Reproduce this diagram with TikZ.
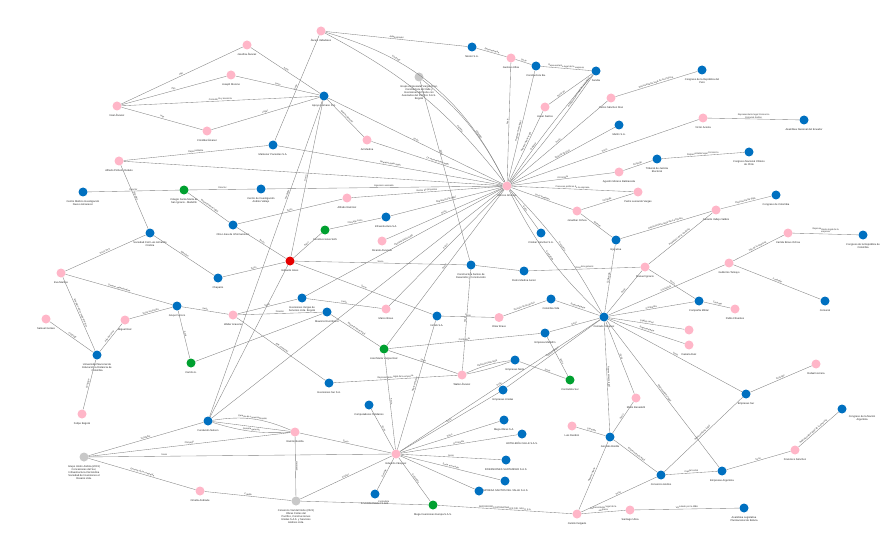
\documentclass[tikz,border=0pt]{standalone}
\usepackage{fontspec}
\setmainfont{Liberation Sans}
\usepackage{tikz}

\definecolor{pinkc}{RGB}{255,182,200}
\definecolor{bluec}{RGB}{0,112,192}
\definecolor{greenc}{RGB}{0,160,48}
\definecolor{greyc}{RGB}{200,200,200}
\definecolor{redc}{RGB}{230,0,0}

\begin{document}
\begin{tikzpicture}[x=1pt, y=-1pt,
    dot/.style={circle, minimum size=9pt, inner sep=0pt, label distance=1.2pt},
    pnode/.style={dot, fill=pinkc},
    bnode/.style={dot, fill=bluec},
    gnode/.style={dot, fill=greenc},
    ynode/.style={dot, fill=greyc},
    rnode/.style={dot, fill=redc},
    nlbl/.style={font=\fontsize{2.6}{3.1}\selectfont, align=center, text=black!85},
    elbl/.style={font=\fontsize{2.3}{2.7}\selectfont, sloped, above, inner sep=0.5pt, text=black!80},
    rel/.style={draw=black!50, line width=0.35pt}]

    \fill[white] (0,0) rectangle (890,553);
    \useasboundingbox (0,0) rectangle (890,553);

    % Hubs
    \node[pnode, label={[nlbl]below:Marcos Jiménez}] (hubA) at (507,186) {};
    \node[bnode, label={[nlbl]below:Conrado Vásquez}] (hubB) at (604,317) {};
    \node[pnode, label={[nlbl]below:Eduardo Vásquez}] (hubC) at (396,454) {};
    \node[rnode, label={[nlbl]below:Eduardo Alves}] (alves) at (290,261) {};

    % Upper left group
    \node[pnode, label={[nlbl]below:Noel Álvarez}] (nAlv) at (117,106) {};
    \node[pnode, label={[nlbl]below:Cristóbal Álvarez}] (cAlv) at (207,131) {};
    \node[pnode, label={[nlbl]below:Alfredo Pinheiro Rebelo}] (aPin) at (119,161) {};
    \node[pnode, label={[nlbl]below:Josefina Álvarez}] (jAlv) at (247,45) {};
    \node[pnode, label={[nlbl]below:Joseph Moreno}] (jMor) at (231,75) {};
    \node[pnode, label={[nlbl]below:Álvaro Valladares}] (aVal) at (321,31) {};
    \node[pnode, label={[nlbl]below:Ari Medina}] (aMed) at (367,140) {};
    \node[bnode, label={[nlbl]below:Apoyo Humano S.A.}] (apoyo) at (324,96) {};
    \node[bnode, label={[nlbl]below:Mantener Pacientes S.A.}] (mant) at (273,145) {};
    \node[bnode, label={[nlbl]below:Centro de Investigación\\Andrés Vallejo}] (cInv) at (261,189) {};
    \node[bnode, label={[nlbl]below:Centro Médico Investigación\\Nuevo Amanecer}] (cMed) at (83,192) {};
    \node[gnode, label={[nlbl]below:Colegio Santa María de\\San Ignacio - Medellín}] (colegio) at (184,190) {};
    \node[bnode, label={[nlbl]below:Otra Línea de Informaciones}] (otra) at (233,225) {};
    \node[ynode, label={[nlbl]below:Grupo empresarial Vargas Díaz,\\Constructora del Valle y\\Inversiones del Norte con\\Asociados del Pacífico S.A.S.\\Bogotá}] (grisA) at (419,77) {};

    % Upper right group
    \node[bnode, label={[nlbl]below:Néstor S.A.}] (nest) at (472,47) {};
    \node[pnode, label={[nlbl]below:Gustavo Ulloa}] (gus) at (511,58) {};
    \node[bnode, label={[nlbl]below:Constructora Ba.}] (cons) at (536,66) {};
    \node[bnode, label={[nlbl]below:Sandia}] (sand) at (596,71) {};
    \node[pnode, label={[nlbl]below:Javier Santos}] (jSan) at (545,107) {};
    \node[pnode, label={[nlbl]below:Carlos Sánchez Díaz}] (cSan) at (611,98) {};
    \node[bnode, label={[nlbl]below:Martín S.A.}] (mart) at (619,125) {};
    \node[bnode, label={[nlbl]below:Tribunal de Justicia\\Electoral}] (trib) at (657,159) {};
    \node[pnode, label={[nlbl]below:Agustín Moreno Balmaceda}] (aMor) at (619,172) {};
    \node[bnode, label={[nlbl]below:Congreso de la República del\\Perú}] (cPer) at (702,70) {};
    \node[pnode, label={[nlbl]below:Víctor Acosta}] (vAco) at (703,118) {};
    \node[bnode, label={[nlbl]below:Asamblea Nacional del Ecuador}] (aEcu) at (804,120) {};
    \node[bnode, label={[nlbl]below:Congreso Nacional Chileno\\de Chile}] (cChi) at (749,152) {};
    \node[pnode, label={[nlbl]below:Pedro Leonardo Vargas}] (pVar) at (638,192) {};
    \node[pnode, label={[nlbl]below:Jonathan Ochoa}] (jOch) at (577,211) {};
    \node[bnode, label={[nlbl]below:Cristian Sánchez S.A.}] (cris) at (541,233) {};
    \node[bnode, label={[nlbl]below:Ejecutiva}] (ejec) at (616,240) {};
    \node[pnode, label={[nlbl]below:Gerardo Vallejo Valdés}] (gVal) at (716,210) {};
    \node[bnode, label={[nlbl]below:Congreso de Colombia}] (cCol) at (776,195) {};
    \node[pnode, label={[nlbl]below:Camila Bravo Ochoa}] (cBra) at (788,233) {};
    \node[bnode, label={[nlbl]below:Congreso de la República de\\Colombia}] (cRep) at (863,235) {};
    \node[pnode, label={[nlbl]below:Guillermo Tamayo}] (gTam) at (729,263) {};
    \node[pnode, label={[nlbl]below:Manuel Ignacio}] (mIgn) at (645,267) {};
    \node[bnode, label={[nlbl]below:Comunal}] (comu) at (825,301) {};
    \node[bnode, label={[nlbl]below:Compañía Militar}] (cMil) at (699,301) {};
    \node[pnode, label={[nlbl]below:Pablo Cifuentes}] (pCif) at (735,309) {};
    \node[pnode] (pkA) at (689,330) {};
    \node[pnode, label={[nlbl]below:Daniela Ruiz}] (pkB) at (689,345) {};
    \node[pnode, label={[nlbl]below:Rafael Herrera}] (rHer) at (816,364) {};

    % Middle group
    \node[pnode, label={[nlbl]below:Alfredo Ramírez}] (aRam) at (347,198) {};
    \node[bnode, label={[nlbl]below:Infraestructura S.A.}] (infra) at (386,217) {};
    \node[gnode, label={[nlbl]below:Construcciones SAS}] (gCon) at (325,230) {};
    \node[pnode, label={[nlbl]below:Ricardo Alvarado}] (rAlv) at (382,241) {};
    \node[bnode, label={[nlbl]below:Constructora Santos de\\Desarrollo y Construcción}] (cSant) at (471,265) {};
    \node[bnode, label={[nlbl]below:Pedro Medina Junior}] (pMed) at (524,271) {};
    \node[bnode, label={[nlbl]below:Inversiones Vargas de\\Servicios Ltda. Bogotá}] (cVar) at (302,298) {};
    \node[bnode, label={[nlbl]below:Mauricio Ruiz Bracci}] (mAso) at (327,312) {};
    \node[pnode, label={[nlbl]below:Walter Aravena}] (wAra) at (233,315) {};
    \node[pnode, label={[nlbl]below:Marco Bravo}] (mBra) at (386,309) {};
    \node[bnode, label={[nlbl]below:Inmob S.A.}] (inmo) at (437,316) {};
    \node[pnode, label={[nlbl]below:Omar Bravo}] (oBra) at (499,317.5) {};
    \node[bnode, label={[nlbl]below:Colombia Vida}] (grem) at (551,299) {};
    \node[gnode, label={[nlbl]below:José María Vargas Ruiz}] (gJos) at (384,349) {};
    \node[bnode, label={[nlbl]below:Empresa Medellín}] (empA) at (545,333) {};
    \node[bnode, label={[nlbl]below:Empresas Norte}] (empB) at (515,360) {};
    \node[pnode, label={[nlbl]below:Walter Álvarez}] (wAlv) at (462,375) {};
    \node[gnode, label={[nlbl]below:Contratista Sur}] (gCtr) at (570,380) {};
    \node[bnode, label={[nlbl]below:Empresas Unidas}] (empC) at (503,390) {};

    % Left group
    \node[bnode, label={[nlbl]below:Sociedad Civil Luis Armando\\Cristina}] (socC) at (150,233) {};
    \node[bnode, label={[nlbl]below:Chaparro}] (chap) at (218,278) {};
    \node[pnode, label={[nlbl]below:Eva Martins}] (eMar) at (61,273) {};
    \node[bnode, label={[nlbl]below:Grupo Ferrero}] (grup) at (177,306) {};
    \node[pnode, label={[nlbl]below:Samuel Gomes}] (sGom) at (46,319) {};
    \node[pnode, label={[nlbl]below:Miguel Ruiz}] (mRui) at (125,320) {};
    \node[bnode, label={[nlbl]below:Universidad Nacional de\\Educación a Distancia de\\Colombia}] (univ) at (97,355) {};
    \node[gnode, label={[nlbl]below:Camilo A.}] (gCam) at (191,363) {};
    \node[pnode, label={[nlbl]below:Felipe Bogotá}] (fBog) at (82,414) {};
    \node[bnode, label={[nlbl]below:Fundación Nelson}] (fund) at (208,421) {};
    \node[ynode, label={[nlbl]below:Grupo Unión Andina (2019)\\Concesiones del Sur,\\Infraestructura Vial Andina\\Sociedad de Inversiones el\\Rosario Ltda.}] (grisB) at (84,457) {};
    \node[pnode, label={[nlbl]below:Ornella Andrade}] (oAnd) at (200,491) {};

    % Lower group
    \node[bnode, label={[nlbl]below:Inversiones Sur S.A.}] (invS) at (329,383) {};
    \node[bnode, label={[nlbl]below:Computadores Solidarios}] (comp) at (369,405) {};
    \node[pnode, label={[nlbl]below:Ramón Bonilla}] (rBon) at (295,432) {};
    \node[ynode, label={[nlbl]below:Consorcio Vial del Norte (2021)\\Obras Civiles del\\Pacífico, Construcciones\\Unidas S.A.S. y Servicios\\Andinos Ltda.}] (grisC) at (296,501) {};
    \node[bnode, label={[nlbl]below:INVERSIONES 4 S.A.S.}] (invF) at (375,494) {};
    \node[gnode, label={[nlbl]below:Mega Inversiones Europa S.A.S.}] (gMeg) at (433,505) {};
    \node[bnode, label={[nlbl]below:Mega Obras S.A.}] (obras) at (504,420) {};
    \node[bnode, label={[nlbl]below:HOTELERÍA CALLE S.A.S.}] (hotel) at (522,434) {};
    \node[bnode, label={[nlbl]below:INVERSIONES SANTANDER S.A.S.}] (sant) at (506,460) {};
    \node[bnode, label={[nlbl]below:EMPRESA SANTOS DEL VALLE S.A.S.}] (valle) at (505,481) {};
    \node[bnode] (bLow) at (479,491) {};
    \node[pnode, label={[nlbl]below:Mario Benedetti}] (mBen) at (636,398) {};
    \node[pnode, label={[nlbl]below:Luis Rendón}] (lRen) at (572,426) {};
    \node[bnode, label={[nlbl]below:Gonzalo Bonilla}] (gBon) at (610,437) {};
    \node[bnode, label={[nlbl]below:Consorcio Andino}] (cAnd) at (661,475) {};
    \node[pnode, label={[nlbl]below:Camilo Delgado}] (cDel) at (577,514) {};
    \node[pnode, label={[nlbl]below:Santiago Ulloa}] (sUll) at (630,510) {};
    \node[bnode, label={[nlbl]below:Empresas Sur}] (eSur) at (746,394) {};
    \node[bnode, label={[nlbl]below:Empresas Argentina}] (eArg) at (722,471) {};
    \node[pnode, label={[nlbl]below:Francisco Sánchez}] (fSan) at (795,450) {};
    \node[bnode, label={[nlbl]below right:Congreso de la Nación\\Argentina}] (cArg) at (842,409) {};
    \node[bnode, label={[nlbl]below:Asamblea Legislativa\\Plurinacional de Bolivia}] (aBol) at (744,508) {};

    % Upper left relations
    \draw[rel] (nAlv) -- node[elbl]{Hijo} (jAlv);
    \draw[rel] (nAlv) -- node[elbl]{Hijo} (jMor);
    \draw[rel] (nAlv) -- node[elbl]{Consultoría y asesoría} (apoyo);
    \draw[rel] (nAlv) -- node[elbl]{Hijo} (cAlv);
    \draw[rel] (cAlv) -- node[elbl]{Legal} (apoyo);
    \draw[rel] (jAlv) -- node[elbl]{Socio} (apoyo);
    \draw[rel] (jMor) -- node[elbl]{Socio} (apoyo);
    \draw[rel] (aPin) -- node[elbl]{Representante} (mant);
    \draw[rel] (aPin) -- (hubA);
    \draw[rel] (aPin) -- node[elbl]{Miembro} (socC);
    \draw[rel] (mant) -- node[elbl]{Representante legal} (hubA);
    \draw[rel] (aVal) -- node[elbl]{Socio} (mant);
    \draw[rel] (aVal) -- node[elbl]{Administrador} (nest);
    \draw[rel] (aVal) to[bend left=24] node[elbl, pos=0.3]{Cónyuge} (hubA);
    \draw[rel] (aVal) to[bend left=12] node[elbl, pos=0.72]{Familia} (hubA);
    \draw[rel] (apoyo) -- node[elbl]{Gerente general} (aMed);
    \draw[rel] (apoyo) -- node[elbl]{Socio} (hubA);
    \draw[rel] (aMed) -- node[elbl]{Co-representante legal} (hubA);
    \draw[rel] (apoyo) -- node[elbl]{Socio} (alves);
    \draw[rel] (apoyo) -- node[elbl, pos=0.3]{Fundador} (fund);
    \draw[rel] (cMed) -- node[elbl]{Director} (colegio);
    \draw[rel] (colegio) -- node[elbl]{Director} (cInv);
    \draw[rel] (colegio) -- node[elbl]{Representante legal} (otra);
    \draw[rel] (cInv) -- node[elbl]{Ingeniero asociado} (hubA);
    \draw[rel] (otra) -- node[elbl]{Socio} (alves);
    \draw[rel] (otra) -- node[elbl]{Socio} (aRam);
    \draw[rel] (aRam) -- node[elbl]{Gestor de proyectos} (hubA);
    \draw[rel] (grisA) to[bend left=12] node[elbl, pos=0.6]{Cónyuge} (hubA);
    \draw[rel] (grisA) -- node[elbl, pos=0.4]{Socio} (cSant);

    % Left relations
    \draw[rel] (socC) -- node[elbl]{Socio DTS} (eMar);
    \draw[rel] (socC) -- node[elbl]{Miembro} (chap);
    \draw[rel] (chap) -- node[elbl]{Socio} (alves);
    \draw[rel] (eMar) -- node[elbl]{Director administrativo} (grup);
    \draw[rel] (eMar) -- node[elbl]{Miembro del consejo directivo} (univ);
    \draw[rel] (sGom) -- node[elbl]{Cónyuge} (univ);
    \draw[rel] (mRui) -- node[elbl]{Hijo del socio} (univ);
    \draw[rel] (grup) -- node[elbl]{Socio accionista} (mRui);
    \draw[rel] (grup) -- node[elbl]{Socio} (gCam);
    \draw[rel] (grup) -- node[elbl]{Socio} (wAra);
    \draw[rel] (univ) -- node[elbl]{Cónyuge} (fBog);
    \draw[rel] (gCam) -- (mAso);

    % Middle relations
    \draw[rel] (alves) -- node[elbl]{Socio} (gCon);
    \draw[rel] (gCon) -- node[elbl]{Cónyuge socio} (infra);
    \draw[rel] (infra) -- node[elbl]{Representante legal} (hubA);
    \draw[rel] (rAlv) -- node[elbl]{Socio} (hubA);
    \draw[rel] (alves) -- node[elbl]{Socio} (cSant);
    \draw[rel] (alves) -- node[elbl]{Socio} (inmo);
    \draw[rel] (alves) -- (fund);
    \draw[rel] (wAra) -- node[elbl]{Socio} (cVar);
    \draw[rel] (wAra) -- node[elbl]{Director} (mAso);
    \draw[rel] (wAra) -- node[elbl]{Jefe comercial} (invS);
    \draw[rel] (cVar) -- node[elbl]{Representante legal} (hubA);
    \draw[rel] (cVar) -- node[elbl]{Socio} (mBra);
    \draw[rel] (mBra) -- node[elbl]{Socio} (hubA);
    \draw[rel] (mAso) -- node[elbl]{Representante legal} (gJos);
    \draw[rel] (inmo) -- node[elbl]{Socio} (oBra);
    \draw[rel] (gJos) -- node[elbl]{Contratista} (empA);
    \draw[rel] (gJos) -- node[elbl]{Socio} (hubA);
    \draw[rel] (gJos) -- node[elbl]{Socio} (wAlv);
    \draw[rel] (gJos) -- node[elbl]{Socio} (hubC);
    \draw[rel] (cSant) -- (pMed);
    \draw[rel] (pMed) -- node[elbl]{Directora general} (mIgn);
    \draw[rel] (cSant) -- node[elbl]{Socio} (wAlv);
    \draw[rel] (hubA) -- (fund);

    % Upper right relations
    \draw[rel] (nest) -- node[elbl]{Representante} (gus);
    \draw[rel] (gus) -- node[elbl]{Socio} (cons);
    \draw[rel] (gus) -- node[elbl]{Socio} (hubA);
    \draw[rel] (cons) -- node[elbl, pos=0.55]{Representante legal} (hubA);
    \draw[rel] (cons) -- node[elbl]{Representante legal de la empresa} (sand);
    \draw[rel] (jSan) -- node[elbl, pos=0.3]{Socio de} (sand);
    \draw[rel] (jSan) -- node[elbl, pos=0.45]{Representante legal} (hubA);
    \draw[rel] (hubA) to[bend left=3] node[elbl, pos=0.3]{Gerente} (sand);
    \draw[rel] (hubA) to[bend right=3] node[elbl, pos=0.85]{Representante legal de la empresa} (sand);
    \draw[rel] (hubA) -- node[elbl]{Socio} (cSan);
    \draw[rel] (cSan) -- node[elbl]{Representante legal de la empresa} (cPer);
    \draw[rel] (hubA) -- node[elbl]{Gerente de área} (mart);
    \draw[rel] (hubA) -- node[elbl]{Socio} (vAco);
    \draw[rel] (vAco) -- node[elbl, align=center]{Representante legal Consorcio\\Comunal Andino} (aEcu);
    \draw[rel] (hubA) -- node[elbl]{Accionista} (aMor);
    \draw[rel] (aMor) -- node[elbl]{Cónyuge} (trib);
    \draw[rel] (trib) -- node[elbl]{Representante legal Consorcio} (cChi);
    \draw[rel] (hubA) -- node[elbl]{Procesos políticos de la empresa} (pVar);
    \draw[rel] (hubA) -- node[elbl]{Socio fundador} (jOch);
    \draw[rel] (jOch) -- node[elbl]{Cónyuge} (pVar);
    \draw[rel] (hubA) -- node[elbl]{Socio} (cris);
    \draw[rel] (jOch) -- node[elbl]{Gerente} (ejec);
    \draw[rel] (ejec) -- node[elbl]{Contratista} (hubB);
    \draw[rel] (ejec) -- node[elbl]{Representante legal de la empresa} (gVal);
    \draw[rel] (mIgn) -- node[elbl]{Propietario de la empresa} (gVal);
    \draw[rel] (gVal) -- node[elbl]{Representante legal} (cCol);
    \draw[rel] (mIgn) -- node[elbl]{Socio} (hubB);
    \draw[rel] (mIgn) -- node[elbl]{Socio} (cMil);
    \draw[rel] (hubA) to[bend right=10] node[elbl]{Contratista} (hubB);
    \draw[rel] (hubA) to[bend left=8] node[elbl]{Consorcio} (hubB);
    \draw[rel] (oBra) -- node[elbl]{Gerente de proyectos} (grem);
    \draw[rel] (grem) -- node[elbl]{Representante} (hubB);

    % Right relations
    \draw[rel] (hubB) -- node[elbl]{Contratista} (gTam);
    \draw[rel] (gTam) -- node[elbl]{Hijo de la empresa} (cBra);
    \draw[rel] (cBra) -- node[elbl, align=center]{Representante legal de la\\empresa} (cRep);
    \draw[rel] (gTam) -- node[elbl]{Fundador} (comu);
    \draw[rel] (hubB) -- node[elbl]{Contratista} (cMil);
    \draw[rel] (cMil) -- node[elbl]{Cónyuge} (pCif);
    \draw[rel] (hubB) -- node[elbl]{Capital social} (pkA);
    \draw[rel] (hubB) -- node[elbl]{Representante} (pkB);
    \draw[rel] (hubB) -- node[elbl]{Socio} (eSur);
    \draw[rel] (hubB) -- node[elbl]{Representante legal} (eArg);
    \draw[rel] (eSur) -- node[elbl]{Cónyuge} (rHer);
    \draw[rel] (eSur) -- node[elbl]{Representante legal} (cAnd);
    \draw[rel] (cAnd) -- node[elbl]{Capital social} (eArg);
    \draw[rel] (eArg) -- node[elbl]{Socio} (fSan);
    \draw[rel] (fSan) -- node[elbl, pos=0.4]{Representante legal de la empresa} (cArg);
    \draw[rel] (hubB) -- node[elbl]{Representante legal} (gBon);
    \draw[rel] (hubB) -- node[elbl]{Socio} (mBen);
    \draw[rel] (gBon) -- node[elbl]{Cónyuge} (lRen);
    \draw[rel] (gBon) -- node[elbl]{Socio} (mBen);
    \draw[rel] (gBon) -- node[elbl]{Representante legal} (cAnd);
    \draw[rel] (cDel) -- node[elbl]{Representante} (gBon);
    \draw[rel] (cDel) -- node[elbl, align=center]{Representante legal de la\\empresa} (sUll);
    \draw[rel] (cDel) -- node[elbl]{Socio} (cAnd);
    \draw[rel] (sUll) -- node[elbl]{Vinculado por la MBA} (aBol);
    \draw[rel] (hubB) -- node[elbl]{Socio} (empA);
    \draw[rel] (empA) -- node[elbl, pos=0.65]{Socio} (gCtr);
    \draw[rel] (empB) -- node[elbl, pos=0.6]{Socio} (gCtr);
    \draw[rel] (wAlv) to[bend left=8] node[elbl]{Representante legal} (empB);
    \draw[rel] (wAlv) to[bend right=4] (empB);
    \draw[rel] (empC) -- node[elbl]{Representante} (hubB);

    % Lower relations
    \draw[rel] (empC) -- node[elbl]{Socio} (hubC);
    \draw[rel] (hubC) -- node[elbl]{Socio} (hubB);
    \draw[rel] (hubC) -- node[elbl]{Representante} (inmo);
    \draw[rel] (invS) -- node[elbl]{Representante legal de la empresa} (wAlv);
    \draw[rel] (comp) -- node[elbl]{Socio} (hubC);
    \draw[rel] (hubC) -- node[elbl]{Gerente} (invF);
    \draw[rel] (hubC) -- node[elbl]{Accionista} (gMeg);
    \draw[rel] (hubC) -- node[elbl]{Socio} (obras);
    \draw[rel] (hubC) -- node[elbl]{Accionista} (hotel);
    \draw[rel] (hubC) -- node[elbl]{Socio} (sant);
    \draw[rel] (hubC) -- node[elbl]{Socio accionista} (valle);
    \draw[rel] (hubC) -- (bLow);
    \draw[rel] (gMeg) -- node[elbl]{INVERSIONES PATRIMONIALES DEL VALLE S.A.} (cDel);
    \draw[rel] (grisC) -- node[elbl, pos=0.65]{Contratista} (gMeg);
    \draw[rel] (grisC) -- node[elbl]{Control} (hubC);
    \draw[rel] (grisC) -- node[elbl]{Hermano} (rBon);
    \draw[rel] (rBon) -- node[elbl]{Socio} (hubC);
    \draw[rel] (fund) -- (rBon);
    \draw[rel] (fund) to[bend left=16] node[elbl]{Gerente de comercialización} (rBon);
    \draw[rel] (fund) to[bend right=10] node[elbl]{Gerente general} (rBon);
    \draw[rel] (grisB) -- node[elbl]{Fundador} (fund);
    \draw[rel] (grisB) -- node[elbl]{Cónyuge} (rBon);
    \draw[rel] (grisB) -- node[elbl, pos=0.25]{Socio} (hubC);
    \draw[rel] (grisB) -- node[elbl]{Gerente de la compañía} (oAnd);
    \draw[rel] (oAnd) -- node[elbl]{Crédito} (grisC);

\end{tikzpicture}
\end{document}
